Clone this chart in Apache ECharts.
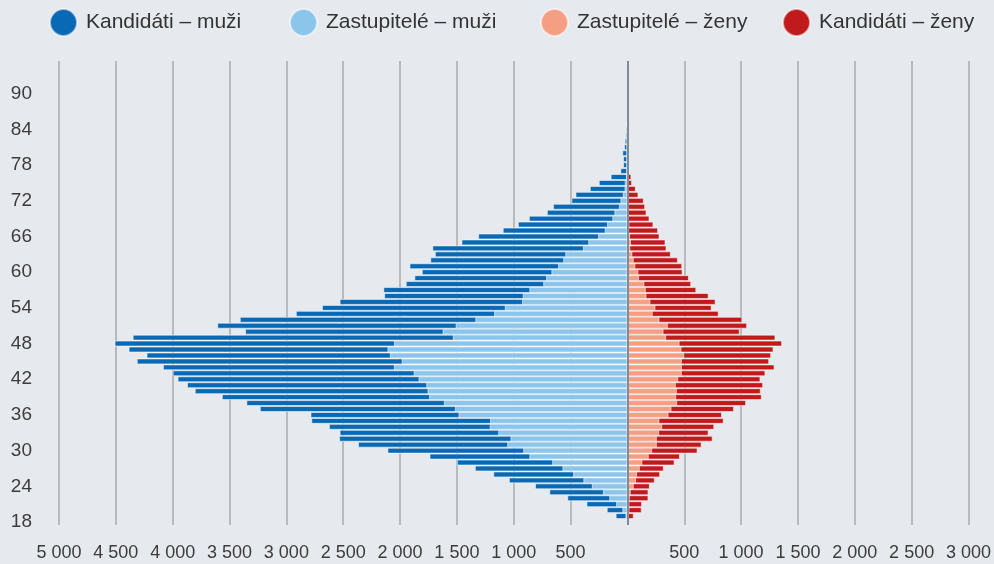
<!DOCTYPE html>
<html>
<head>
<meta charset="utf-8">
<script src="https://cdn.jsdelivr.net/npm/echarts@6/dist/echarts.min.js"></script>
<style>
    html, body { margin: 0; padding: 0; background: #e6e9ed; }
    #chart { width: 994px; height: 564px; }
</style>
</head>
<body>
<div id="chart"></div>
<script>
// věkové kategorie osy y: 18 až 95 let
const vekOd = 18;
const vekDo = 95;

// hodnoty pro věk 19 až 85 let
const kandidatiMuzi = [
    104, 182, 360, 529, 687, 813, 1043, 1180, 1342, 1500,
    1741, 2111, 2370, 2536, 2532, 2626, 2781, 2788, 3234, 3352,
    3568, 3806, 3874, 3957, 4000, 4086, 4316, 4230, 4388, 4511,
    4352, 3363, 3608, 3410, 2917, 2687, 2532, 2140, 2147, 1950,
    1874, 1809, 1917, 1734, 1694, 1716, 1460, 1313, 1097, 964,
    867, 709, 655, 493, 457, 331, 252, 148, 62, 38,
    38, 45, 30, 24, 18, 15, 6
];
const zastupiteleMuzi = [
    18, 45, 100, 160, 216, 313, 388, 478, 572, 662,
    863, 917, 1058, 1029, 1137, 1212, 1209, 1486, 1518, 1615,
    1745, 1759, 1770, 1838, 1881, 2054, 1986, 2090, 2111, 2054,
    1536, 1626, 1511, 1338, 1173, 1079, 928, 921, 863, 741,
    716, 669, 611, 565, 547, 392, 345, 259, 200, 180,
    133, 115, 75, 62, 42, 26, 24, 12, 8, 6,
    6, 5, 4, 3, 3, 2, 1
];
const zastupiteleZeny = [
    12, 18, 18, 21, 29, 56, 76, 85, 109, 132,
    188, 218, 259, 259, 279, 306, 282, 362, 388, 438,
    429, 435, 426, 447, 479, 479, 479, 500, 476, 459,
    341, 318, 356, 282, 223, 247, 203, 168, 162, 150,
    103, 97, 70, 56, 44, 26, 32, 24, 15, 18,
    12, 10, 8, 7, 6, 5, 4, 3, 3, 2,
    2, 1, 1, 1, 0, 0, 0
];
const kandidatiZeny = [
    56, 126, 129, 185, 185, 197, 241, 288, 320, 415,
    462, 617, 653, 750, 714, 764, 847, 832, 938, 1044,
    1182, 1173, 1194, 1170, 1214, 1294, 1247, 1264, 1285, 1361,
    1302, 988, 1053, 1011, 803, 741, 776, 714, 606, 561,
    541, 485, 482, 444, 382, 344, 335, 282, 270, 229,
    194, 168, 156, 144, 97, 74, 41, 35, 18, 12,
    12, 8, 5, 5, 4, 3, 2
];
const prvniVekDat = 19;

const barvy = {
    kandidatiMuzi: '#0a69b4',
    zastupiteleMuzi: '#8bc5ec',
    zastupiteleZeny: '#f49f84',
    kandidatiZeny: '#c01a1c'
};

const font = 'Liberation Sans';

// kategorie a doplnění dat na celou osu
const vekList = [];
for (let v = vekOd; v <= vekDo; v++) vekList.push(String(v));

function naOsu(values, sign) {
    return vekList.map(function (v) {
        const i = Number(v) - prvniVekDat;
        return (i >= 0 && i < values.length) ? sign * values[i] : null;
    });
}

function formatTisice(v) {
    if (v === 0) return '';
    return String(Math.abs(v)).replace(/\B(?=(\d{3})+(?!\d))/g, ' ');
}

const myChart = echarts.init(document.getElementById('chart'));

const barStyle = function (color) {
    return {
        color: color,
        borderColor: 'rgba(255,255,255,0.55)',
        borderWidth: 1
    };
};

const legendItem = function (name, left) {
    return {
        data: [name],
        left: left,
        top: 3,
        icon: 'circle',
        itemWidth: 27,
        itemHeight: 27,
        selectedMode: false,
        textStyle: {
            fontFamily: font,
            fontSize: 21,
            color: '#333333',
            padding: [0, 0, 0, 4]
        }
    };
};

const option = {
    backgroundColor: '#e6e9ed',
    animation: false,
    legend: [
        legendItem('Kandidáti – muži', 44),
        legendItem('Zastupitelé – muži', 284),
        legendItem('Zastupitelé – ženy', 535),
        legendItem('Kandidáti – ženy', 777)
    ],
    grid: {
        left: 59,
        right: 24,
        top: 61,
        bottom: 39,
        containLabel: false
    },
    xAxis: {
        type: 'value',
        min: -5000,
        max: 3000,
        interval: 500,
        axisLine: {show: false},
        axisTick: {show: false},
        splitLine: {
            show: true,
            lineStyle: {color: '#a9abae', width: 1.5}
        },
        axisLabel: {
            formatter: formatTisice,
            fontFamily: font,
            fontSize: 18,
            color: '#3c3c3c',
            margin: 19
        }
    },
    yAxis: {
        type: 'category',
        data: vekList,
        axisLine: {show: false},
        axisTick: {show: false},
        axisLabel: {
            interval: 5,
            fontFamily: font,
            fontSize: 19,
            color: '#3c3c3c',
            align: 'right',
            margin: 27,
            padding: [4, 0, 0, 0]
        }
    },
    series: [
        {
            name: 'Kandidáti – muži',
            type: 'bar',
            barGap: '-100%',
            barCategoryGap: '0%',
            itemStyle: barStyle(barvy.kandidatiMuzi),
            data: naOsu(kandidatiMuzi, -1)
        },
        {
            name: 'Kandidáti – ženy',
            type: 'bar',
            itemStyle: barStyle(barvy.kandidatiZeny),
            data: naOsu(kandidatiZeny, 1)
        },
        {
            name: 'Zastupitelé – muži',
            type: 'bar',
            itemStyle: barStyle(barvy.zastupiteleMuzi),
            data: naOsu(zastupiteleMuzi, -1)
        },
        {
            name: 'Zastupitelé – ženy',
            type: 'bar',
            itemStyle: barStyle(barvy.zastupiteleZeny),
            data: naOsu(zastupiteleZeny, 1),
            // nulová osa přes sloupce
            markLine: {
                silent: true,
                symbol: 'none',
                label: {show: false},
                lineStyle: {color: '#7f8b95', width: 2, type: 'solid'},
                data: [{xAxis: 0}]
            }
        }
    ]
};

myChart.setOption(option);
</script>
</body>
</html>
